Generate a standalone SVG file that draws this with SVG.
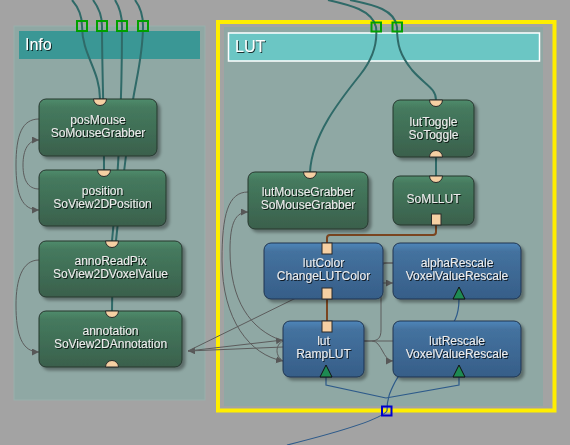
<svg xmlns="http://www.w3.org/2000/svg" width="570" height="445" viewBox="0 0 570 445">
<defs>
<linearGradient id="gGreen" x1="0" y1="0" x2="0" y2="1">
<stop offset="0" stop-color="#508c6c"/><stop offset="0.15" stop-color="#457a5e"/><stop offset="1" stop-color="#3a604c"/>
</linearGradient>
<linearGradient id="gBlue" x1="0" y1="0" x2="0" y2="1">
<stop offset="0" stop-color="#4f86ba"/><stop offset="0.15" stop-color="#44729f"/><stop offset="1" stop-color="#365e88"/>
</linearGradient>
<filter id="shadow" x="-10%" y="-10%" width="130%" height="140%">
<feDropShadow dx="3" dy="3" stdDeviation="1.5" flood-color="#000" flood-opacity="0.35"/>
</filter>
<filter id="tshadow" x="-5%" y="-20%" width="115%" height="150%">
<feDropShadow dx="1" dy="1" stdDeviation="0.3" flood-color="#000" flood-opacity="0.75"/>
</filter>
<marker id="arr" markerUnits="userSpaceOnUse" markerWidth="8" markerHeight="8" refX="7" refY="3.5" orient="auto">
<path d="M0,0 L7,3.5 L0,7 Z" fill="#585858"/>
</marker>
<style>
.node rect.body{stroke:#26362e;stroke-width:1;filter:url(#shadow)}
.green rect.body{fill:url(#gGreen)}
.blue rect.body{fill:url(#gBlue);stroke:#1f3550}
.lbl{font-family:"Liberation Sans",Arial,sans-serif;font-size:12px;fill:#ececec;text-anchor:middle;filter:url(#tshadow)}
.title{font-family:"Liberation Sans",Arial,sans-serif;font-size:16px;fill:#ffffff;filter:url(#tshadow)}
.port{fill:#f6d0a3;stroke:#2a2a2a;stroke-width:1}
.tri{fill:#1e8a52;stroke:#111;stroke-width:1}
.teal{fill:none;stroke:#2f6a68;stroke-width:2}
.gray{fill:none;stroke:#5c5c5c;stroke-width:1}
.brown{fill:none;stroke:#7a4520;stroke-width:2}
.bl{fill:none;stroke:#2d5a8a;stroke-width:1.2}
.gport{fill:none;stroke:#00a000;stroke-width:2}
</style>
</defs>
<rect x="0" y="0" width="570" height="445" fill="#a3a3a3"/>

<!-- Info panel -->
<g id="panel-info">
<rect x="14" y="26" width="191" height="374" fill="#8fa8a4" stroke="#99b0ac" stroke-width="1"/>
<rect x="19" y="31" width="181" height="28" fill="#3a9795"/>
<text class="title" x="25" y="50">Info</text>
</g>

<!-- LUT panel -->
<g id="panel-lut">
<rect x="218" y="22" width="336.5" height="388.5" fill="none" stroke="#ffee00" stroke-width="4"/>
<rect x="224" y="27" width="319" height="379" fill="#8fa8a4"/>
<rect x="228.5" y="33" width="311" height="28" fill="#6bc6c4" stroke="#ffffff" stroke-width="1.5"/>
<text class="title" x="235" y="52">LUT</text>
</g>

<g id="connectors">
<!-- teal Info -->
<path class="teal" d="M72,0 C79,8 82,16 82,26 C82,55 100,70 100,99"/>
<path class="teal" d="M93,0 C99,8 102,16 102,26 C102,70 104,110 104,170"/>
<path class="teal" d="M115,0 C120,8 122,16 122,26 C122,90 120,160 112,241"/>
<path class="teal" d="M135,0 C141,8 143,16 143,26 C143,60 134,85 130,120 C124,180 112,250 112,311"/>
<!-- teal LUT -->
<path class="teal" d="M328,0 C350,5 372,10 376,27 C378,45 372,60 360,75 C340,100 312,135 310,172"/>
<path class="teal" d="M350,0 C375,5 395,10 397,27 C397,45 400,55 412,70 C425,85 436,88 436,100"/>
<path class="teal" d="M436,157 L436,176"/>
<!-- brown -->
<path class="brown" d="M436,225 L436,232 Q436,235 433,235 L330,235 Q327,235 327,238 L327,243"/>
<path class="brown" d="M327,299 L327,321"/>
<!-- blue -->
<path class="bl" d="M326,377 L326,385 L386,398"/>
<path class="bl" d="M459,377 L459,385 L386,398"/>
<path class="bl" d="M459,299 C459,320 452,325 440,340 C420,362 400,370 395,382 C390,392 387,398 387,411"/>
<path class="bl" d="M387,411 C380,420 335,433 287,445"/>
<!-- gray Info -->
<path class="gray" marker-end="url(#arr)" d="M39,119 C22,119 16,135 16,165 C16,195 22,210 39,210"/>
<path class="gray" marker-end="url(#arr)" d="M39,189 C28,189 23,180 23,165 C23,150 28,140 39,140"/>
<path class="gray" marker-end="url(#arr)" d="M39,260 C22,260 16,280 16,305 C16,335 22,352 39,352"/>
<!-- gray LUT -->
<path class="gray" marker-end="url(#arr)" d="M283,347 L188,351"/>
<path class="gray" d="M300,296 L188,351"/>
<path class="gray" marker-end="url(#arr)" d="M188,351 L283,340"/>
<path class="gray" marker-end="url(#arr)" d="M248,192 C228,192 222,215 222,260 C222,320 250,355 283,361"/>
<path class="gray" marker-end="url(#arr)" d="M283,341 C250,330 230,300 230,250 C230,222 236,212 248,212"/>
<path class="gray" d="M283,341 C275,345 275,356 283,361"/>
<path class="gray" d="M383,263 L393,263"/>
<path class="gray" marker-end="url(#arr)" d="M383,283 L393,283"/>
<path class="gray" d="M393,263 L386,263 C382,263 381,267 381,276 L381,330 C381,338 378,341 370,341 L364,341"/>
<path class="gray" d="M364,341 L393,341"/>
<path class="gray" marker-end="url(#arr)" d="M372,341 C382,341 383,361 393,361"/>
</g>

<!-- Info nodes -->
<g id="posMouse" class="node green">
<rect class="body" x="39" y="99" width="118" height="57" rx="7"/>
<path class="port" d="M93.5,99 A6.5,6.5 0 0,0 106.5,99 Z"/>
<text class="lbl" x="98" y="124">posMouse</text>
<text class="lbl" x="98" y="137">SoMouseGrabber</text>
</g>
<g id="position" class="node green">
<rect class="body" x="39" y="170" width="127" height="56" rx="7"/>
<path class="port" d="M97.5,170 A6.5,6.5 0 0,0 110.5,170 Z"/>
<text class="lbl" x="102.5" y="195">position</text>
<text class="lbl" x="102.5" y="208">SoView2DPosition</text>
</g>
<g id="annoReadPix" class="node green">
<rect class="body" x="39" y="241" width="143" height="56" rx="7"/>
<path class="port" d="M105.5,241 A6.5,6.5 0 0,0 118.5,241 Z"/>
<text class="lbl" x="110.5" y="265">annoReadPix</text>
<text class="lbl" x="110.5" y="278">SoView2DVoxelValue</text>
</g>
<g id="annotation" class="node green">
<rect class="body" x="39" y="311" width="143" height="56" rx="7"/>
<path class="port" d="M105.5,311 A6.5,6.5 0 0,0 118.5,311 Z"/>
<path class="port" d="M105.5,367 A6.5,6.5 0 0,1 118.5,367 Z"/>
<text class="lbl" x="110.5" y="335">annotation</text>
<text class="lbl" x="110.5" y="348">SoView2DAnnotation</text>
</g>

<!-- LUT nodes -->
<g id="lutToggle" class="node green">
<rect class="body" x="393" y="100" width="81" height="57" rx="7"/>
<path class="port" d="M429.5,100 A6.5,6.5 0 0,0 442.5,100 Z"/>
<path class="port" d="M429.5,157 A6.5,6.5 0 0,1 442.5,157 Z"/>
<text class="lbl" x="433.5" y="126">lutToggle</text>
<text class="lbl" x="433.5" y="139">SoToggle</text>
</g>
<g id="lutMouseGrabber" class="node green">
<rect class="body" x="248" y="172" width="120" height="57" rx="7"/>
<path class="port" d="M303.5,172 A6.5,6.5 0 0,0 316.5,172 Z"/>
<text class="lbl" x="308" y="196">lutMouseGrabber</text>
<text class="lbl" x="308" y="209">SoMouseGrabber</text>
</g>
<g id="SoMLLUT" class="node green">
<rect class="body" x="393" y="176" width="81" height="49" rx="7"/>
<path class="port" d="M429.5,176 A6.5,6.5 0 0,0 442.5,176 Z"/>
<rect class="port" x="431.5" y="214" width="9.5" height="11"/>
<text class="lbl" x="433.5" y="203">SoMLLUT</text>
</g>
<g id="lutColor" class="node blue">
<rect class="body" x="264" y="243" width="119" height="56" rx="7"/>
<rect class="port" x="322" y="243" width="10" height="11"/>
<rect class="port" x="322" y="288" width="10" height="11"/>
<text class="lbl" x="323.5" y="267">lutColor</text>
<text class="lbl" x="323.5" y="280">ChangeLUTColor</text>
</g>
<g id="alphaRescale" class="node blue">
<rect class="body" x="393" y="243" width="128" height="56" rx="7"/>
<path class="tri" d="M453,299 L459,287 L465,299 Z"/>
<text class="lbl" x="457" y="267">alphaRescale</text>
<text class="lbl" x="457" y="280">VoxelValueRescale</text>
</g>
<g id="lut" class="node blue">
<rect class="body" x="283" y="321" width="81" height="56" rx="7"/>
<rect class="port" x="322" y="321" width="10" height="11"/>
<path class="tri" d="M320,377 L326,365 L332,377 Z"/>
<text class="lbl" x="323.5" y="345">lut</text>
<text class="lbl" x="323.5" y="358">RampLUT</text>
</g>
<g id="lutRescale" class="node blue">
<rect class="body" x="393" y="321" width="128" height="56" rx="7"/>
<path class="tri" d="M453,377 L459,365 L465,377 Z"/>
<text class="lbl" x="457" y="345">lutRescale</text>
<text class="lbl" x="457" y="358">VoxelValueRescale</text>
</g>

<!-- panel ports -->
<g id="panel-ports">
<rect class="gport" x="77" y="21" width="10" height="10"/>
<rect class="gport" x="97" y="21" width="10" height="10"/>
<rect class="gport" x="117" y="21" width="10" height="10"/>
<rect class="gport" x="138" y="21" width="10" height="10"/>
<rect class="gport" x="371.5" y="22.5" width="9.5" height="9"/>
<rect class="gport" x="392.5" y="22.5" width="9.5" height="9"/>
<rect x="382" y="406.5" width="9.5" height="9" fill="none" stroke="#0000cc" stroke-width="2"/>
</g>
</svg>
